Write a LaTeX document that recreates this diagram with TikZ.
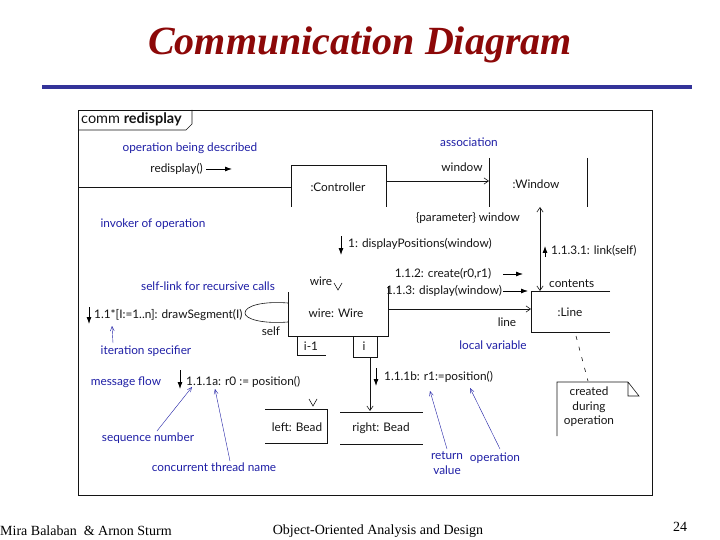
\documentclass[tikz,border=0pt]{standalone}
\usepackage{fontspec}
\setmainfont{Liberation Serif}
\newfontfamily\umlfont{Lato}
\usetikzlibrary{arrows.meta}
\usepackage{xcolor}
\definecolor{titlered}{RGB}{140,8,8}
\definecolor{ruleblue}{RGB}{51,51,153}
\definecolor{remarkblue}{RGB}{30,30,165}
\definecolor{lineblack}{RGB}{20,20,20}

\tikzset{
  uml/.style={font=\umlfont\fontsize{11.8}{14.5}\selectfont, inner sep=0pt, text=lineblack},
  remark/.style={uml, text=remarkblue},
  edge/.style={draw=lineblack, line width=0.6pt},
  msgarrow/.style={-{Latex[length=2.4mm,width=1.7mm]}, line width=0.8pt},
  navarrow/.style={-{Straight Barb[length=1.6mm,width=2.2mm]}},
  pointer/.style={-{Straight Barb[length=1.6mm,width=1.4mm]}, draw=remarkblue, line width=0.4pt},
  footer/.style={font=\fontsize{14}{14}\selectfont, inner sep=0pt},
}

\begin{document}
\begin{tikzpicture}[x=1pt,y=-1pt]
\useasboundingbox (0,0) rectangle (720,540);

\node[font=\bfseries\itshape\fontsize{40}{40}\selectfont, text=titlered, anchor=base] (title) at (360,55) {Communication Diagram};
\draw[ruleblue, line width=4pt] (42,87) -- (692,87);

\draw[edge] (78,110) rectangle (652,495);
\draw[edge] (78,130) -- (186,130) -- (192,124) -- (192,110);
\node[uml, font=\umlfont\fontsize{14.5}{16}\selectfont, anchor=west] (frametag) at (81,119) {comm \textbf{redisplay}};

\node[remark] (opdesc) at (190,148) {operation being described};
\node[uml, anchor=east] (redisp) at (203,169) {redisplay()};
\draw[msgarrow] ([xshift=3pt]redisp.east) -- ++(26,0);
\node[remark] (invoker) at (153,224) {invoker of operation};

\draw[edge] (291,207) -- (291,165) -- (386,165) -- (386,207);
\node[uml] (ctrl) at (338,187) {:Controller};
\coordinate (callerW) at (78,187);
\coordinate (ctrlW) at (291,187);
\coordinate (ctrlE) at (386,181);
\draw[edge] (callerW) -- (ctrlW);

\draw[edge] (489,158) -- (489,207);
\draw[edge] (587,158) -- (587,207);
\node[uml] (window) at (536,184) {:Window};
\coordinate (winW) at (489,181);
\coordinate (winS) at (540,207);
\draw[edge, navarrow] (ctrlE) -- (winW);
\node[remark] (assoc) at (469,142) {association};
\node[uml] (winrole) at (462,167) {window};

\draw[edge] (610,291) -- (531,291) -- (531,332) -- (610,332);
\node[uml] (line) at (570,312) {:Line};
\coordinate (lineN) at (540,291);
\coordinate (lineW) at (531,309);
\draw[edge, {Straight Barb[length=1.6mm,width=2.2mm]}-{Straight Barb[length=1.6mm,width=2.2mm]}] (winS) -- (lineN);
\node[uml] (paramrole) at (468,218) {\{parameter\} window};
\draw[msgarrow] (545,257) -- (545,246);
\node[uml, anchor=west] (msglink) at (551,251) {1.1.3.1: link(self)};
\node[uml, anchor=west] (contents) at (549,284) {contents};

\draw[msgarrow] (341,236) -- (341,255);
\node[uml, anchor=west] (msgdisp) at (348,244) {1: displayPositions(window)};

\draw[edge] (288,292) -- (288,336) -- (388,336) -- (388,286);
\node[uml] (wire) at (336,313) {wire: Wire};
\node[uml] (wirerole) at (321,281) {wire};
\draw[edge] (334,283) -- (338,290) -- (342,283);
\coordinate (wireE) at (388,309);
\draw[edge, navarrow] (wireE) -- (lineW);
\node[uml] (linerole) at (507,322) {line};
\node[uml] (msgcreate) at (443,274) {1.1.2: create(r0,r1)};
\draw[msgarrow] (503,274) -- (523,274);
\node[uml] (msgshow) at (444,291) {1.1.3: display(window)};
\draw[msgarrow] (503,291) -- (528,291);
\node[remark] (localvar) at (493,345) {local variable};

\coordinate (selfA) at (288,303);
\coordinate (selfB) at (288,322);
\draw[edge] (selfA) .. controls (262,301) and (245,306) .. (245,313) .. controls (245,319) and (262,324) .. (selfB);
\node[uml] (selfrole) at (271,331) {self};
\node[remark] (selflink) at (208,286) {self-link for recursive calls};
\draw[msgarrow] (89,307) -- (89,324);
\node[uml, anchor=west] (msgseg) at (94,315) {1.1*[I:=1..n]: drawSegment(I)};
\node[remark] (iterspec) at (146,351) {iteration specifier};
\draw[pointer] (113,343) -- (112,326);

\draw[edge] (297,336) -- (297,355) -- (326,355);
\node[uml] (qualprev) at (311,346) {i-1};
\draw[edge] (353,336) -- (353,357) -- (377,357) -- (377,336);
\node[uml] (qualcur) at (364,346) {i};
\coordinate (qualS) at (370,357);

\draw[edge] (265,409) -- (327,409) -- (327,443) -- (265,443);
\node[uml] (leftbead) at (297,427) {left: Bead};
\draw[edge] (309,399) -- (313,406) -- (317,399);
\draw[edge] (340,412) -- (423,412);
\draw[edge] (340,444) -- (423,444);
\node[uml] (rightbead) at (381,428) {right: Bead};
\coordinate (rbeadN) at (370,411);
\draw[edge, navarrow] (qualS) -- (rbeadN);

\node[remark] (msgflow) at (126,382) {message flow};
\draw[msgarrow] (180,370) -- (180,389);
\node[uml, anchor=west] (msgpos0) at (186,382) {1.1.1a: r0 := position()};
\draw[msgarrow] (376,368) -- (376,386);
\node[uml, anchor=west] (msgpos1) at (384,377) {1.1.1b: r1:=position()};
\node[remark] (seqnum) at (148,438) {sequence number};
\draw[pointer] (157,431) -- (192,387);
\node[remark] (thread) at (214,467) {concurrent thread name};
\draw[pointer] (230,461) -- (215,389);
\node[remark, align=center] (retval) at (447,463) {return\\value};
\draw[pointer] (447,449) -- (430,391);
\node[remark] (opname) at (495,458) {operation};
\draw[pointer] (500,449) -- (470,388);

\draw[edge, dash pattern=on 4pt off 7pt] (576,336) -- (588,381);
\draw[edge] (557,436) -- (557,382) -- (628,382) -- (639,396) -- (628,396) -- (628,382);
\node[uml, align=center] (note) at (589,407) {created\\during\\operation};

\node[footer, anchor=west] (authors) at (0,531) {Mira Balaban \ \& Arnon Sturm};
\node[footer] (course) at (378,531) {Object-Oriented Analysis and Design};
\node[footer] (page) at (680,527) {24};
\end{tikzpicture}
\end{document}
